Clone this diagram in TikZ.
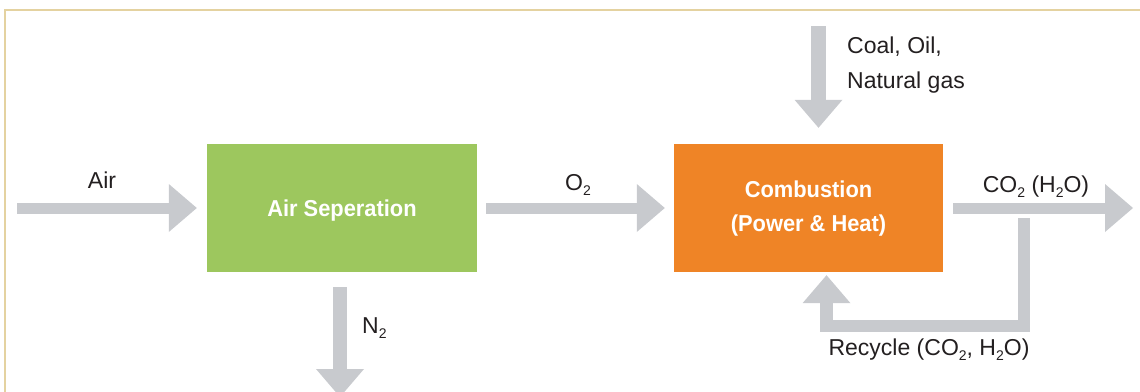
\documentclass[tikz,border=0pt]{standalone}
\usepackage{fontspec}
\setmainfont{Liberation Sans}
\newfontfamily\boxfont{Liberation Sans}[FakeStretch=0.95]
\usetikzlibrary{arrows.meta}
\definecolor{framegold}{RGB}{228,210,160}
\definecolor{sepgreen}{RGB}{157,199,94}
\definecolor{combo}{RGB}{239,132,38}
\definecolor{arrowgray}{RGB}{200,202,206}
\definecolor{txt}{RGB}{35,31,32}
\newcommand{\subs}[1]{\raisebox{-0.45ex}{\fontsize{14}{14}\selectfont #1}}
\tikzset{
  box/.style={rectangle, inner sep=0pt, minimum width=270pt, minimum height=128pt},
  lbl/.style={inner sep=0pt, text=txt, font=\fontsize{23}{28}\selectfont},
  boxlbl/.style={inner sep=0pt, text=white, font=\boxfont\bfseries\fontsize{23}{28}\selectfont},
  flow/.style={draw=arrowgray, line width=11pt, line join=miter,
    -{Triangle[length=28pt,width=48pt,line width'=0pt]}},
}
\begin{document}
\begin{tikzpicture}[x=1pt,y=-1pt]
\useasboundingbox (0,0) rectangle (1140,391);
% frame
\draw[framegold, line width=2.5pt] (5,400) -- (5,10) -- (1145,10);
% boxes
\node[box, fill=sepgreen] (sep) at (342,208) {};
\node[box, fill=combo, minimum width=269pt] (comb) at (808.5,208) {};
% box labels
\node[boxlbl, anchor=base] (septxt) at (342,216) {Air Seperation};
\node[boxlbl, anchor=base] (combtxt1) at (808.5,197) {Combustion};
\node[boxlbl, anchor=base] (combtxt2) at (808.5,231) {(Power \& Heat)};
% coordinates
\coordinate (airin) at (17,208);
\coordinate (fuelin) at (818.5,26);
\coordinate (co2out) at (1133,208);
\coordinate (n2out) at (340,397);
\coordinate (recstart) at (1024,218);
% arrows
\draw[flow] (airin) -- ([xshift=-10pt]sep.west);
\draw[flow] ([xshift=9pt]sep.east) -- ([xshift=-9pt]comb.west);
\draw[flow] ([xshift=10pt]comb.east) -- (co2out);
\draw[flow, line width=14pt] ([xshift=-2pt,yshift=-15pt]sep.south) -- (n2out);
\draw[flow, line width=15pt] (fuelin) -- ([xshift=10pt,yshift=16pt]comb.north);
\draw[flow, line width=12.5pt] (recstart) -- (recstart |- 0,326) -| ([xshift=18pt,yshift=-3pt]comb.south);
% labels
\node[lbl, anchor=base] (airlbl) at (102,188) {Air};
\node[lbl, anchor=base] (o2lbl) at (578,190) {O\subs{2}};
\node[lbl, anchor=base] (co2lbl) at (1036,192) {CO\subs{2} (H\subs{2}O)};
\node[lbl, anchor=base west] (n2lbl) at (362,333) {N\subs{2}};
\node[lbl, anchor=base west] (fuel1) at (847,53) {Coal, Oil,};
\node[lbl, anchor=base west] (fuel2) at (847,88) {Natural gas};
\node[lbl, anchor=base] (reclbl) at (929,355) {Recycle (CO\subs{2}, H\subs{2}O)};
\end{tikzpicture}
\end{document}
